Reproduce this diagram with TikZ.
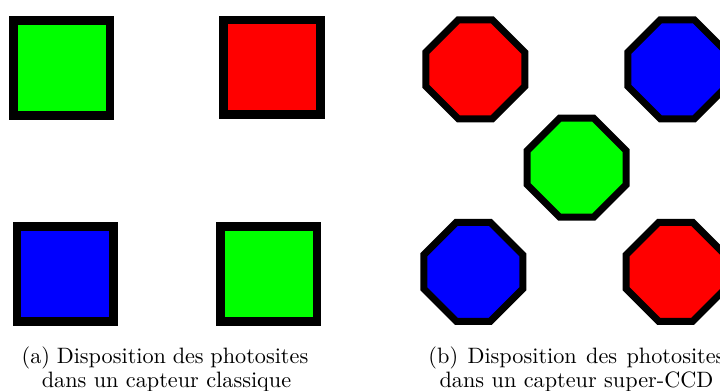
\documentclass[tikz,border=0pt]{standalone}
\usepackage{tikz}
\tikzset{pixel/.style={draw=black, line width=4.15pt, minimum width=47.1pt, minimum height=46.1pt, inner sep=0pt},
%octagonal photosite of the super-CCD
superpixel/.style={draw=black, line width=3.4pt, line join=miter},
legend/.style={anchor=base, inner sep=0pt, font=\fontsize{10.85}{13}\selectfont}}

\begin{document}
\begin{tikzpicture}[x=0.4878pt,y=-0.4878pt]
\useasboundingbox (0,0) rectangle (720,391);
\clip (0,0) rectangle (720,391);

% classique
\node[pixel,fill=green] (vert1) at (61.7,68.0) {};
\node[pixel,fill=red] (rouge) at (272.0,67.2) {};
\node[pixel,fill=blue] (bleu) at (65.2,274.0) {};
\node[pixel,fill=green] (vert2) at (268.8,274.0) {};

% super-CCD
\foreach \cx/\cy/\col in {475.3/69.3/red, 677.3/69.3/blue, 576.7/167.7/green, 473.3/271.8/blue, 675.7/271.8/red}
   \filldraw[superpixel,fill=\col,shift={(\cx,\cy)}] (-17,-49.5) -- (17,-49.5) -- (49.5,-17) -- (49.5,17)
      -- (17,49.5) -- (-17,49.5) -- (-49.5,17) -- (-49.5,-17) -- cycle;

%labels
\node[legend] (legA1) at (165,364) {\makebox[139.8pt][s]{(a) Disposition des photosites}};
\node[legend] (legA2) at (166.5,388) {dans un capteur classique};
\node[legend] (legB1) at (576.5,364) {\makebox[144.4pt][s]{(b) Disposition des photosites}};
\node[legend] (legB2) at (576.5,388) {dans un capteur super-CCD};

\end{tikzpicture}
\end{document}
